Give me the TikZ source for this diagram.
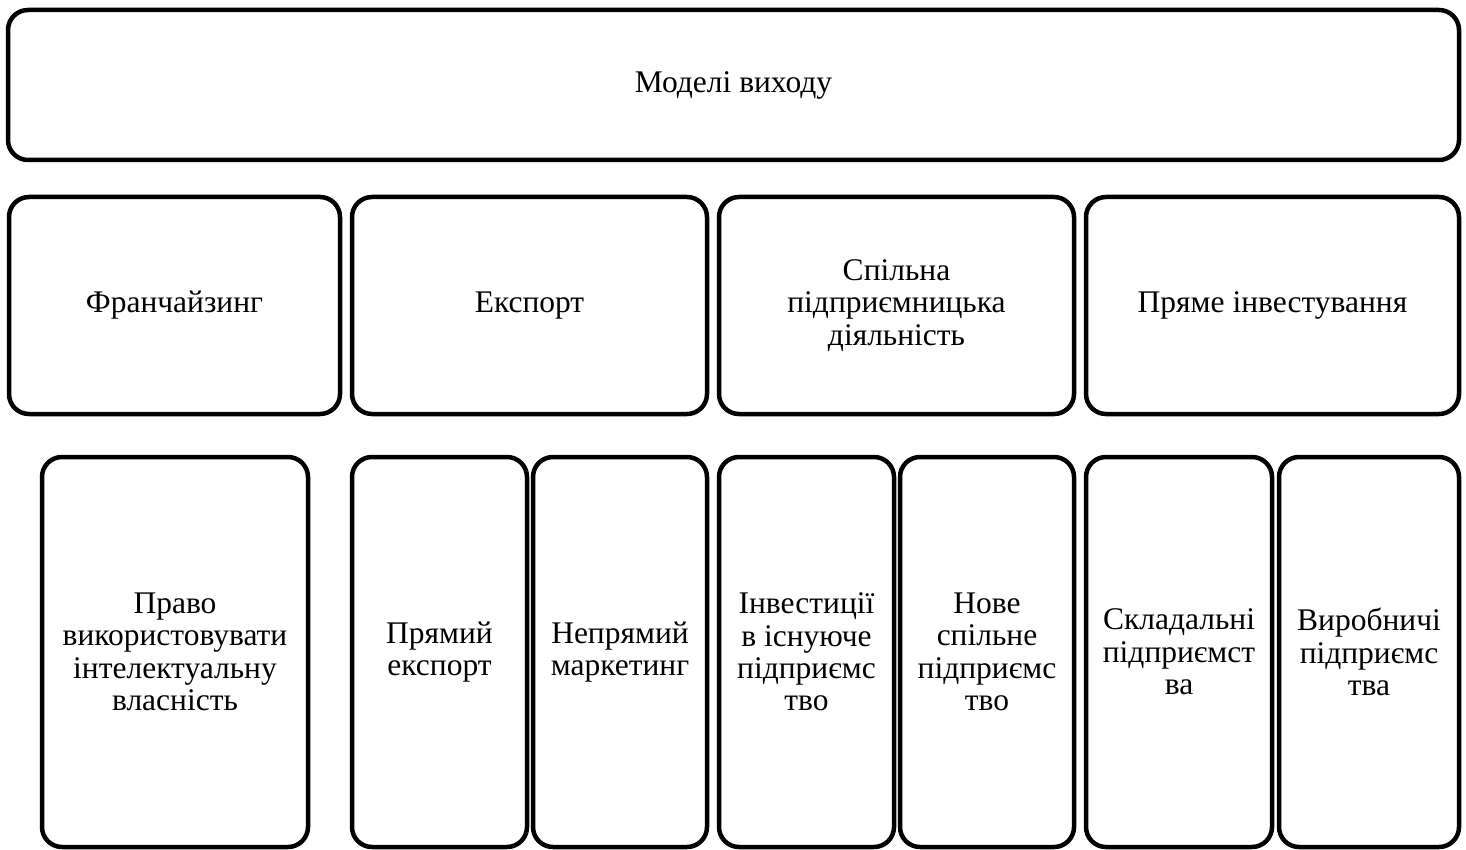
\documentclass[tikz,border=0pt]{standalone}
\usepackage{fontspec}
\setmainfont{Liberation Serif}
\usepackage{tikz}
\usetikzlibrary{positioning}

\begin{document}
\begin{tikzpicture}[
    x=0.5pt, y=-0.5pt,
    card/.style={draw, line width=2.25pt, rounded corners=10pt, align=center,
      inner sep=2pt, font=\fontsize{15.75}{16.2}\selectfont},
    model/.style={card, minimum height=108.5pt},
    form/.style={card, minimum height=195pt},
  ]
  \useasboundingbox (0,0) rectangle (1466,850);

  % Top: all entry models
  \node[card, minimum width=725.5pt, minimum height=75pt] (entry) at (733.5,85)
    {Моделі виходу};

  % Second row: four entry models
  \node[model, minimum width=165.5pt] (franch) at (174.5,305.5) {Франчайзинг};
  \node[model, minimum width=177.5pt] (export) at (529.5,305.5) {Експорт};
  \node[model, minimum width=177.5pt] (joint) at (896.5,305.5)
    {Спільна\\підприємницька\\діяльність};
  \node[model, minimum width=186.5pt] (direct) at (1272.5,305.5)
    {Пряме інвестування};

  % Third row: forms under each model
  \node[form, minimum width=133pt] (ipright) at (175,652)
    {Право\\використовувати\\інтелектуальну\\власність};
  \node[form, minimum width=87.5pt] (dirExp) at (439.5,652) {Прямий\\експорт};
  \node[form, minimum width=87pt] (indirMkt) at (620,652) {Непрямий\\маркетинг};
  \node[form, minimum width=87.5pt] (invExist) at (806.5,652)
    {Інвестиції\\в існуюче\\підприємс\\тво};
  \node[form, minimum width=87pt] (newJoint) at (987,652)
    {Нове\\спільне\\підприємс\\тво};
  \node[form, minimum width=93pt] (assembly) at (1179,652)
    {Складальні\\підприємст\\ва};
  \node[form, minimum width=90pt] (product) at (1369,652)
    {Виробничі\\підприємс\\тва};
\end{tikzpicture}
\end{document}
